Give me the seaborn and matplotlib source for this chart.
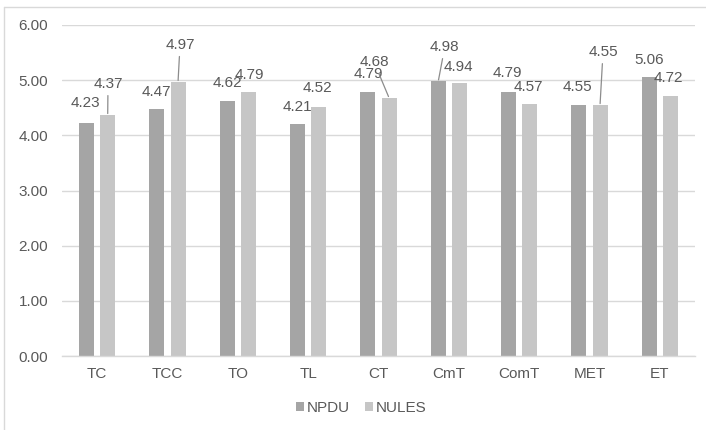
import matplotlib
matplotlib.use("Agg")
import matplotlib.pyplot as plt
from matplotlib.lines import Line2D
import pandas as pd
import seaborn as sns

# Scores per dimension for the two universities
dimensions = ["TC", "TCC", "TO", "TL", "CT", "CmT", "ComT", "MET", "ET"]
npdu = [4.23, 4.47, 4.62, 4.21, 4.79, 4.98, 4.79, 4.55, 5.06]
nules = [4.37, 4.97, 4.79, 4.52, 4.68, 4.94, 4.57, 4.55, 4.72]
groups = ["NPDU", "NULES"]
y_ticks = [0, 1, 2, 3, 4, 5, 6]

# Label placement (pixel offsets from each bar top) and whether a leader line is drawn
npdu_offsets = [(-1, 19.5), (-1, 17.5), (0, 18), (0, 16.7), (0, 17.7),
                (6.5, 34.3), (-1.7, 18.7), (-1, 18), (0, 16.8)]
nules_offsets = [(0.3, 31), (2, 37), (0.6, 16.7), (-1.7, 18.6), (-15, 35.8),
                 (-1.4, 16.5), (-1.7, 16.9), (3, 53), (-2.4, 17.6)]
npdu_leader = [False, False, False, False, False, True, False, False, False]
nules_leader = [True, True, False, False, True, False, False, True, False]

df = pd.DataFrame({
    "dimension": dimensions * 2,
    "score": npdu + nules,
    "university": [groups[0]] * len(npdu) + [groups[1]] * len(nules),
})

sns.set_theme(style="white")
plt.rcParams["font.family"] = ["Liberation Sans", "DejaVu Sans"]

TEXT = "#595959"
GRID = "#d9d9d9"

fig = plt.figure(figsize=(7.06, 4.30), dpi=100)
ax = fig.add_axes([0.0878, 0.172, 0.8966, 0.7699])

sns.barplot(data=df, x="dimension", y="score", hue="university",
            palette=["#a5a5a5", "#c6c6c6"], width=0.6, gap=0.29,
            saturation=1, ax=ax, linewidth=0)

ax.set_ylim(0, 6)
ax.set_xlim(-0.5, len(dimensions) - 0.5)
ax.set_yticks(y_ticks)
ax.set_yticklabels([f"{t:.2f}" for t in y_ticks])
ax.set_xlabel("")
ax.set_ylabel("")
ax.yaxis.grid(True, color=GRID, linewidth=1.0)
ax.set_axisbelow(True)
for side in ["top", "right", "left"]:
    ax.spines[side].set_visible(False)
ax.spines["bottom"].set_color(GRID)
ax.spines["bottom"].set_linewidth(1.0)
ax.tick_params(axis="y", length=0, pad=10, labelsize=11, labelcolor=TEXT)
ax.tick_params(axis="x", length=0, pad=8, labelsize=11, labelcolor=TEXT)

# Data labels
offsets = [npdu_offsets, nules_offsets]
leaders = [npdu_leader, nules_leader]
for k, container in enumerate(ax.containers):
    for j, bar in enumerate(container):
        x = bar.get_x() + bar.get_width() / 2
        v = bar.get_height()
        dx, dy = offsets[k][j]
        kw = {}
        if leaders[k][j]:
            kw["arrowprops"] = dict(arrowstyle="-", color="#8c8c8c", lw=0.9,
                                    shrinkA=1, shrinkB=1)
        ax.annotate(f"{v:.2f}", xy=(x, v), xytext=(dx, dy),
                    textcoords="offset pixels", ha="center", va="center",
                    fontsize=11, color=TEXT, annotation_clip=False, **kw)

# Legend below the plot
handles, labels = ax.get_legend_handles_labels()
if ax.legend_ is not None:
    ax.legend_.remove()
fig.legend(handles, labels, loc="center", bbox_to_anchor=(361 / 706, 1 - 408 / 430),
           ncol=2, frameon=False, handlelength=0.55, handleheight=0.55,
           handletextpad=0.15, columnspacing=1.0, fontsize=11, labelcolor=TEXT)

# Chart-area border
fig.add_artist(Line2D([4 / 706, 1], [1 - 7 / 430, 1 - 7 / 430],
                      transform=fig.transFigure, color=GRID, lw=1.0))
fig.add_artist(Line2D([4 / 706, 4 / 706], [0, 1 - 7 / 430],
                      transform=fig.transFigure, color=GRID, lw=1.0))

fig.savefig("out.png", dpi=100)
